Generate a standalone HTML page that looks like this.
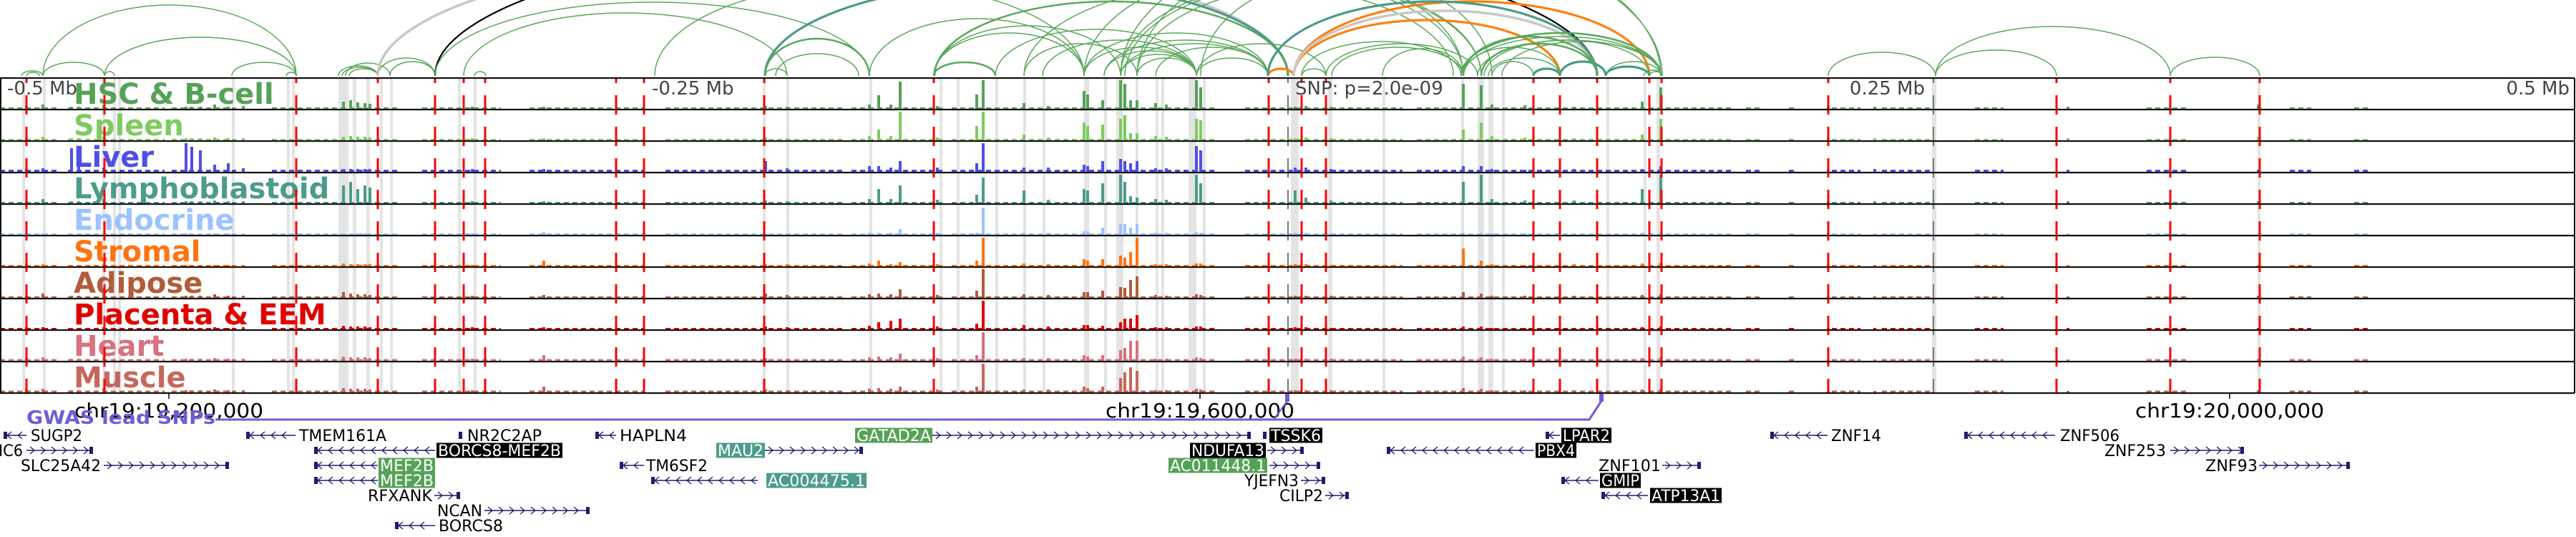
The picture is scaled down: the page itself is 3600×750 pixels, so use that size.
<!DOCTYPE html>
<html>
<head>
<meta charset="utf-8">
<style>
  html,body{margin:0;padding:0;background:#fff;}
  svg{display:block;}
  .tl{font-family:"DejaVu Sans","Liberation Sans",sans-serif;font-weight:bold;font-size:40px;}
  .mb{font-family:"DejaVu Sans","Liberation Sans",sans-serif;font-size:26px;fill:#444;}
  .ax{font-family:"DejaVu Sans","Liberation Sans",sans-serif;font-size:28px;fill:#000;}
  .gn{font-family:"DejaVu Sans","Liberation Sans",sans-serif;font-size:22px;}
</style>
</head>
<body>
<svg id="fig" width="3600" height="750" viewBox="0 0 3600 750" xmlns="http://www.w3.org/2000/svg">
  <rect x="0" y="0" width="3600" height="750" fill="#fff"/>
  <g id="arcs"></g>
  <g id="greybands"></g>
  <g id="signals"></g>
  <g id="labels"></g>
  <g id="reds"></g>
  <g id="borders"></g>
  <g id="mblabels">
    <text class="mb" x="10" y="132">-0.5 Mb</text>
    <text class="mb" x="911" y="132">-0.25 Mb</text>
    <text class="mb" x="1810" y="132">SNP: p=2.0e-09</text>
    <text class="mb" x="2690" y="132" text-anchor="end">0.25 Mb</text>
    <text class="mb" x="3591" y="132" text-anchor="end">0.5 Mb</text>
  </g>
  <g id="xaxis"></g>
  <g id="gwas"></g>
  <g id="genes"></g>
</svg>
<script>
// ---------- data ----------
const trackNames = ["HSC & B-cell","Spleen","Liver","Lymphoblastoid","Endocrine","Stromal","Adipose","Placenta & EEM","Heart","Muscle"];
const trackColors = ["#55a257","#7ecb62","#4f4fe6","#4c9c8b","#9cc3ff","#ff7311","#b25b3a","#e00000","#d9717f","#c6675d"];
const noiseLevels = [2,2,3,2,2,2,2,2,2.5,2.5];
const peakBins = [37,60,100,110,145,260,268,280,300,319,340,480,490,500,510,517,660,760,1070,1100,1215,1228,1245,1258,1310,1365,1374,1431,1465,1515,1520,1541,1566,1572,1580,1589,1615,1630,1672,1678,1810,1825,1860,2045,2070,2085,2131,2200,2295,2321,2555,2620,2890,3156];
const hscVals   = [4,6,3,3,5, 3,3,3,6,3, 4,10,12,9,8, 7,3,3,4,3, 6,19,6,38,4, 20,40,8,4,25, 20,12,40,35,12, 12,8,6,40,30, 3,4,3,35,33, 6,5,3,10,30, 4,3,3,6];
const spleenVals= [4,5,3,3,5, 3,3,3,4,3, 3,5,6,5,5, 4,3,3,4,3, 6,15,6,40,4, 20,40,8,4,25, 20,22,30,35,10, 10,6,5,30,28, 3,4,3,15,25, 6,4,3,8,30, 3,3,3,5];
const liverVals = [4,5,33,36,6, 40,35,30,10,12, 5,4,4,4,4, 4,4,4,15,5, 8,8,6,15,6, 12,40,6,6,10, 8,15,18,15,12, 15,5,5,36,30, 6,6,4,8,8, 4,3,4,4,8, 3,4,3,3];
const lymphVals = [3,6,3,3,6, 3,3,3,4,3, 3,25,30,20,25, 22,3,3,4,3, 6,20,6,25,5, 12,36,18,5,20, 18,28,40,30,10, 8,6,5,40,28, 18,8,4,30,40, 6,4,4,20,40, 3,3,3,3];
const endoVals  = [3,2,2,2,2, 2,2,2,2,2, 2,2,2,2,2, 2,2,4,2,2, 3,3,3,8,3, 3,38,3,3,5, 5,10,15,15,10, 15,3,3,4,3, 3,3,2,3,3, 2,2,2,3,5, 2,2,2,2];
const stromVals = [3,3,2,2,3, 2,2,2,2,2, 2,4,3,3,3, 3,2,8,3,3, 4,8,3,6,3, 8,40,4,3,10, 8,10,15,12,20, 40,3,3,4,4, 3,3,2,25,8, 3,2,3,4,5, 2,2,2,2];
const adipVals  = [3,6,3,3,6, 3,3,3,5,3, 3,8,6,5,5, 4,3,4,6,4, 5,6,5,12,4, 10,40,5,4,8, 8,10,15,14,25, 30,4,3,5,4, 3,3,3,8,6, 3,3,3,4,5, 2,2,2,3];
const placVals  = [3,3,2,2,3, 2,2,2,3,2, 3,5,4,4,4, 3,3,3,4,3, 5,10,12,15,4, 8,40,6,4,6, 6,5,10,15,15, 20,3,3,4,4, 3,3,2,4,4, 2,2,2,3,4, 2,2,2,2];
const heartVals = [4,5,3,3,6, 3,3,3,4,3, 3,6,5,5,5, 4,3,8,4,3, 5,6,5,10,4, 8,40,4,4,8, 6,8,15,18,28, 28,3,3,5,4, 3,3,3,6,5, 3,3,3,4,5, 2,2,2,3];
const muscVals  = [4,5,3,3,6, 3,3,3,4,3, 3,6,5,5,5, 4,3,8,4,3, 5,6,5,8,4, 8,40,4,4,8, 6,8,20,28,35, 30,3,3,5,4, 3,3,3,6,5, 3,3,3,4,5, 2,2,2,3];
const trackVals = [hscVals,spleenVals,liverVals,lymphVals,endoVals,stromVals,adipVals,placVals,heartVals,muscVals];
const noiseStart = [0,95,240,380,590,740,930,1190,1330,1740,1980,2440,2500,2560,2630,2760,3000,3200,3290];
const noiseEnd   = [80,230,330,560,700,900,1180,1320,1700,1960,2420,2460,2510,2600,2700,2800,3060,3230,3310];
const bandStart = [31,60,143,158,165,324,401,408,473,493,512,531,545,640,662,1066,1099,1215,1313,1337,1391,1430,1457,1515,1543,1560,1587,1615,1623,1661,1681,1804,1856,1932,2042,2065,2080,2099,2245,2297,2315,2700,3155];
const bandEnd   = [35,64,147,162,169,328,405,412,487,498,517,535,549,644,666,1070,1103,1219,1317,1341,1395,1434,1461,1522,1547,1570,1591,1619,1627,1672,1685,1815,1862,1936,2046,2074,2087,2103,2249,2301,2320,2706,3159];
const variantBins = [37,146,414,528,608,648,678,861,900,1068,1305,1773,1819,1853,2143,2180,2232,2305,2322,2555,2874,3033,3158];
const leadSnpBins = [1800,2702];
const arcStart = [30,37,60,60,146,146,324,400,473,478,488,483,528,545,663,528,608,608,648,1069,1069,1084,1305,1306,915,1431,1215,1305,1305,1431,1391,1457,1515,1543,1566,1515,1543,1566,1589,1615,1672,1672,1515,1566,1572,1589,1678,1566,1589,1069,1772,1808,1808,1808,1772,2143,2180,2244,1819,1853,1819,1861,1932,2042,2045,2065,2070,2074,2080,2085,2045,2099,2045,2305,2245,2297,2555,2705,2705,3033];
const arcEnd   = [60,55,146,414,414,160,414,414,528,528,528,545,608,608,679,1800,2232,1215,1100,1800,1100,1200,1391,1800,1515,2031,1515,1566,1515,1589,1672,1672,1672,1672,1672,1772,1772,1772,1672,1772,1772,1853,2045,2045,2070,2070,2085,2321,2323,1215,1808,2305,2180,2232,2232,2180,2244,2305,2042,2065,1853,2045,2045,2321,2321,2321,2232,2305,2180,2143,2180,2321,2232,2323,2321,2323,2705,2874,3033,3158];
const arcHeight= [7,5,19,99,54,6,19,5,14,12,10,18,25,20,6,173,200,103,88,131,10,31,19,104,130,130,80,70,60,45,65,50,40,35,30,60,50,45,25,40,25,45,150,130,130,125,140,200,190,52,10,104,78,91,104,10,20,13,48,45,10,40,38,60,55,50,45,50,25,20,40,48,55,6,20,8,33,36,69,26];
const arcKind  = ["g","g","g","g","g","g","g","g","g","g","g","g","g","g","g","grey","black","g","g","teal","g","g","G","G","g","g","g","g","g","g","g","g","g","g","g","g","g","g","g","g","g","g","g","g","g","g","g","g","g","G","orange","orange","orange","grey","teal","teal","teal","teal","g","g","g","g","g","G","g","g","G","g","g","g","g","g","G","g","g","g","g","g","g","g"];
const tickBins = [236,1677,3116];
const tickLabels = ["chr19:19,200,000","chr19:19,600,000","chr19:20,000,000"];

// ---------- scales ----------
const PANEL_TOP = 109, TRACK_H = 44, PANEL_L = 0, PANEL_R = 3598;
const xScale = b => PANEL_L + b * (PANEL_R - PANEL_L) / 3598;
const yScale = (t, v) => PANEL_TOP + (t + 1) * TRACK_H - 1 - v;
const NS = "http://www.w3.org/2000/svg";
function mk(tag, attrs, parent){ const e=document.createElementNS(NS,tag); for(const k in attrs) e.setAttribute(k,attrs[k]); parent.appendChild(e); return e; }

// arcs
const arcsG = document.getElementById('arcs');
const kindStyle = {g:["#5aa75a",1.5],G:["#5aa75a",2.5],teal:["#4a9a8a",3.2],grey:["#c8c8c8",3.6],black:["#000",2.2],orange:["#ff7f0e",3.2]};
const ARC_BASE = 106;
for (let i=0;i<arcStart.length;i++){
  const x1=xScale(arcStart[i]), x2=xScale(arcEnd[i]);
  const rx=(x2-x1)/2, ry=arcHeight[i];
  const st=kindStyle[arcKind[i]];
  const p=mk('path',{d:`M${x1},${ARC_BASE} A${rx},${ry} 0 0 1 ${x2},${ARC_BASE}`,fill:"none",stroke:st[0],"stroke-width":st[1]},arcsG);
  
  
}
const defs = mk('defs',{},document.getElementById('fig'));
const cp = mk('clipPath',{id:'arcclip'},defs);
mk('rect',{x:0,y:0,width:3600,height:108},cp);
arcsG.setAttribute('clip-path','url(#arcclip)');

// grey bands
const bandsG=document.getElementById('greybands');
for(let i=0;i<bandStart.length;i++){
  const r=mk('rect',{x:xScale(bandStart[i]),y:PANEL_TOP,width:xScale(bandEnd[i])-xScale(bandStart[i]),height:TRACK_H*10,fill:"#e4e4e4"},bandsG);
  
  
}

// signals
const sigG=document.getElementById('signals');
for(let t=0;t<trackVals.length;t++){
  const g=mk('g',{},sigG);
  
  
  const base=yScale(t,0);
  for(let i=0;i<noiseStart.length;i++){
    const lv=noiseLevels[t];
    const l=mk('line',{x1:xScale(noiseStart[i]),x2:xScale(noiseEnd[i]),y1:base-lv/2,y2:base-lv/2,stroke:trackColors[t],"stroke-width":lv,"stroke-dasharray":"7 5"},g);
    
    
  }
  const vals=trackVals[t];
  for(let i=0;i<peakBins.length;i++){
    const top=yScale(t,vals[i]);
    const r=mk('rect',{x:xScale(peakBins[i])-2,y:top,width:4,height:base-top,fill:trackColors[t]},g);
    
    
  }
}

// track labels
const labG=document.getElementById('labels');
for(let t=0;t<trackNames.length;t++){
  const tx=mk('text',{x:103,y:PANEL_TOP+t*TRACK_H+36,class:"tl",fill:trackColors[t]},labG);
  tx.textContent=trackNames[t];
  
  
}

// red dashed variant lines & lead SNP lines
const redG=document.getElementById('reds');
for(let i=0;i<variantBins.length;i++){
  const l=mk('line',{x1:xScale(variantBins[i]),x2:xScale(variantBins[i]),y1:PANEL_TOP,y2:PANEL_TOP+TRACK_H*10,stroke:"#ff0000","stroke-width":3,"stroke-dasharray":"27 17","stroke-dashoffset":20},redG);
  
  
}
for(let i=0;i<leadSnpBins.length;i++){
  const l=mk('line',{x1:xScale(leadSnpBins[i]),x2:xScale(leadSnpBins[i]),y1:PANEL_TOP,y2:PANEL_TOP+TRACK_H*10,stroke:"#777","stroke-width":2,"stroke-dasharray":"27 17","stroke-dashoffset":20},redG);
  
  
}

// borders
const bG=document.getElementById('borders');
for(let t=0;t<=10;t++){
  const l=mk('line',{x1:0,x2:PANEL_R,y1:PANEL_TOP+t*TRACK_H,y2:PANEL_TOP+t*TRACK_H,stroke:"#111","stroke-width":2.2},bG);
  
  
}
const lb=mk('line',{x1:1,x2:1,y1:PANEL_TOP,y2:PANEL_TOP+440,stroke:"#111","stroke-width":2},bG);


const rb=mk('line',{x1:PANEL_R,x2:PANEL_R,y1:PANEL_TOP,y2:PANEL_TOP+440,stroke:"#111","stroke-width":2},bG);



// x axis
const axG=document.getElementById('xaxis');
for(let i=0;i<tickBins.length;i++){
  const x=xScale(tickBins[i]);
  const l=mk('line',{x1:x,x2:x,y1:550,y2:557,stroke:"#000","stroke-width":1.5},axG);
  
  
  const tx=mk('text',{x:x,y:583,class:"ax","text-anchor":"middle",textLength:264,lengthAdjust:"spacingAndGlyphs"},axG);
  tx.textContent=tickLabels[i];
  
  
}

// GWAS track
const gw=document.getElementById('gwas');
const gl=mk('polyline',{points:"301,586 2221,586 2238,560",fill:"none",stroke:"#6b5fd6","stroke-width":3},gw);


const gl2=mk('polyline',{points:"1780,586 1799,560",fill:"none",stroke:"#6b5fd6","stroke-width":2},gw);


for(const sx of [1799,2238]){
  const m=mk('rect',{x:sx-3,y:550,width:6,height:11,fill:"#6b5fd6"},gw);
  
  
}
const gt=mk('text',{x:37,y:592,fill:"#6b5fd6","font-family":"DejaVu Sans, Liberation Sans, sans-serif","font-weight":"bold","font-size":"26",textLength:264,lengthAdjust:"spacingAndGlyphs"},gw);
gt.textContent="GWAS lead SNPs";



// genes: name, x1, x2, row, dir, labelX, labelAnchor, boxColor, labelWidth
const genes = [
 ["SUGP2",5,37,0,-1,43,"start",null,72],
 ["IC6",37,130,1,1,32,"end",null,34],
 ["SLC25A42",145,320,2,1,141,"end",null,112],
 ["TMEM161A",344,413,0,-1,418,"start",null,122],
 ["NR2C2AP",642,646,0,1,653,"start",null,104],
 ["BORCS8-MEF2B",439,608,1,-1,610,"start","#000",176],
 ["MEF2B",439,528,2,-1,529,"start","#55a257",79],
 ["MEF2B",439,528,3,-1,529,"start","#55a257",79],
 ["RFXANK",607,643,4,1,604,"end",null,90],
 ["NCAN",677,824,5,1,674,"end",null,63],
 ["BORCS8",552,608,6,-1,613,"start",null,90],
 ["HAPLN4",832,861,0,-1,866,"start",null,94],
 ["TM6SF2",866,900,2,-1,903,"start",null,86],
 ["AC004475.1",910,1059,3,-1,1071,"start","#4c9c8b",140],
 ["MAU2",1069,1206,1,1,1069,"end","#4c9c8b",68],
 ["GATAD2A",1303,1748,0,1,1303,"end","#55a257",108],
 ["TSSK6",1766,1770,0,1,1774,"start","#000",74],
 ["NDUFA13",1771,1822,1,1,1769,"end","#000",106],
 ["AC011448.1",1774,1845,2,1,1771,"end","#55a257",138],
 ["YJEFN3",1818,1852,3,1,1815,"end",null,76],
 ["CILP2",1852,1885,4,1,1849,"end",null,61],
 ["LPAR2",2160,2180,0,-1,2182,"start","#000",70],
 ["PBX4",1938,2144,1,-1,2146,"start","#000",57],
 ["ZNF101",2323,2377,2,1,2321,"end",null,87],
 ["GMIP",2182,2234,3,-1,2236,"start","#000",57],
 ["ATP13A1",2238,2303,4,-1,2306,"start","#000",100],
 ["ZNF14",2474,2554,0,-1,2559,"start",null,70],
 ["ZNF506",2745,2872,0,-1,2879,"start",null,83],
 ["ZNF253",3033,3136,1,1,3027,"end",null,86],
 ["ZNF93",3157,3284,2,1,3155,"end",null,73]
];
const genesG=document.getElementById('genes');
const ROW0=608, ROWH=21, GCOL="#1e1e6e";
for(const g of genes){
  const [name,x1,x2,row,dir,lx,anc,box,lw]=g;
  const cy=ROW0+row*ROWH;
  const grp=mk('g',{},genesG);
  
  
  mk('line',{x1:x1,x2:x2,y1:cy,y2:cy,stroke:GCOL,"stroke-width":1.5},grp);
  for(let cx=x1+8;cx<x2-4;cx+=15){
    const d = dir>0 ? `M${cx-3},${cy-5} L${cx+3},${cy} L${cx-3},${cy+5}` : `M${cx+3},${cy-5} L${cx-3},${cy} L${cx+3},${cy+5}`;
    mk('path',{d:d,fill:"none",stroke:GCOL,"stroke-width":1.3},grp);
  }
  const ex = dir>0 ? x2-5 : x1;
  mk('rect',{x:ex,y:cy-5,width:5,height:10,fill:GCOL},grp);
  if(box){
    const bx = anc==="start"? lx : lx-lw;
    mk('rect',{x:bx,y:cy-10.5,width:lw,height:21,fill:box},grp);
  }
  const tlx = box ? (anc==="start"? lx+2 : lx-2) : lx;
  const tx=mk('text',{x:tlx,y:cy+8,class:"gn","text-anchor":anc,fill:box?"#fff":"#000",textLength:box?lw-4:lw,lengthAdjust:"spacingAndGlyphs"},grp);
  tx.textContent=name;
}
</script>
</body>
</html>
